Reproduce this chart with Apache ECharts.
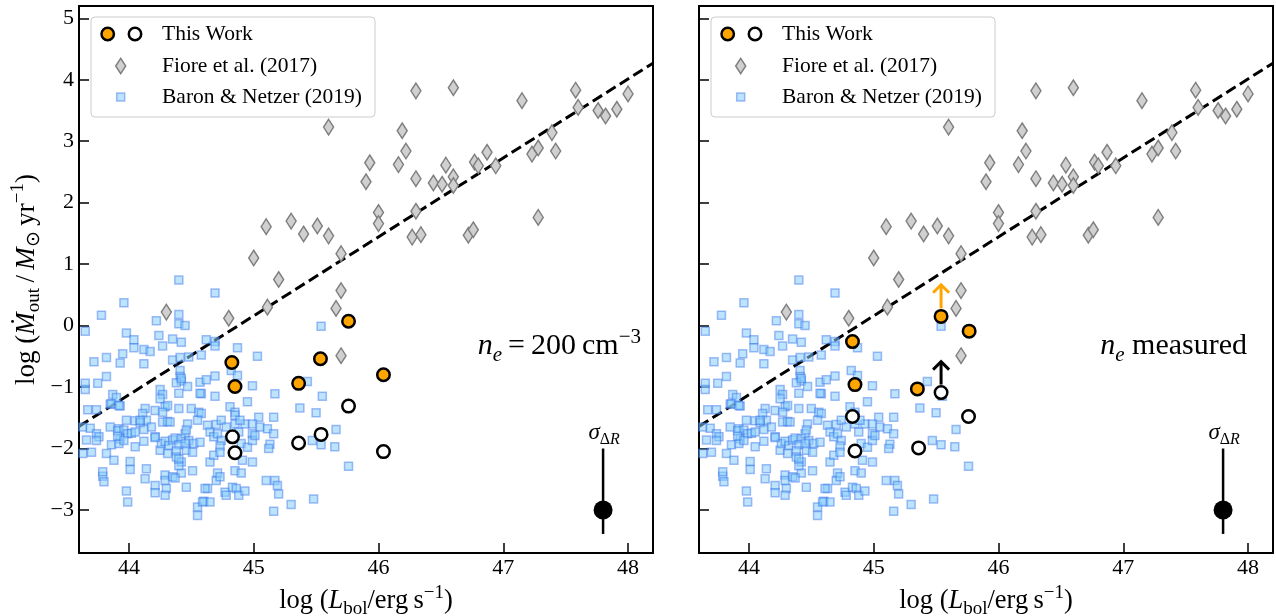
<!DOCTYPE html>
<html><head><meta charset="utf-8">
<script src="https://cdn.jsdelivr.net/npm/echarts@6/dist/echarts.min.js"></script>
<style>html,body{margin:0;padding:0;background:#fff}#c{width:1276px;height:616px}</style>
</head><body><div id="c"></div>
<script>
const xTicks=[44,45,46,47,48];
const yTicks=[-3,-2,-1,0,1,2,3,4,5];
const fiore=[[44.30,0.22],[44.80,0.12],[45.00,1.10],[45.10,1.61],[45.11,0.30],[45.20,0.75],[45.30,1.70],[45.40,1.49],[45.51,1.62],[45.60,1.46],[45.60,3.23],[45.66,0.28],[45.70,0.57],[45.70,1.17],[45.70,-0.49],[45.90,2.34],[45.93,2.65],[46.00,1.84],[46.00,1.66],[46.16,2.62],[46.19,3.17],[46.22,2.84],[46.27,1.44],[46.30,3.82],[46.30,2.39],[46.30,1.86],[46.34,1.48],[46.44,2.32],[46.51,2.30],[46.54,2.61],[46.60,3.87],[46.60,2.42],[46.60,2.28],[46.72,1.47],[46.76,1.56],[46.77,2.66],[46.80,2.60],[46.87,2.82],[46.94,2.60],[47.15,3.66],[47.23,2.79],[47.28,2.89],[47.28,1.76],[47.39,3.14],[47.42,2.84],[47.58,3.83],[47.60,3.55],[47.76,3.50],[47.82,3.41],[47.91,3.52],[48.00,3.77]];
const baron=[[44.40,0.74],[44.69,0.53],[43.96,0.37],[43.78,0.17],[44.22,0.08],[44.40,0.18],[44.40,0.03],[44.45,0.00],[43.65,-0.09],[45.54,-0.01],[43.98,-0.12],[44.24,-0.16],[44.04,-0.23],[44.04,-0.36],[44.35,-0.22],[44.42,-0.27],[44.27,-0.33],[44.12,-0.39],[44.17,-0.42],[44.62,-0.23],[44.69,-0.26],[44.69,-0.33],[44.87,-0.36],[43.95,-0.46],[43.72,-0.59],[43.82,-0.52],[43.93,-0.61],[44.12,-0.62],[44.35,-0.56],[44.41,-0.52],[44.48,-0.51],[44.58,-0.48],[45.03,-0.50],[44.41,-0.73],[44.82,-0.73],[44.87,-0.81],[43.65,-0.94],[43.75,-0.94],[43.82,-0.83],[43.65,-1.04],[44.41,-0.83],[44.42,-0.90],[44.47,-0.99],[44.38,-0.93],[44.25,-1.04],[44.27,-1.12],[44.40,-1.10],[44.57,-0.92],[44.62,-0.88],[44.69,-0.82],[44.58,-1.11],[44.69,-1.15],[44.99,-0.98],[45.17,-1.11],[45.43,-0.91],[45.55,-1.15],[43.87,-1.12],[43.90,-1.17],[43.93,-1.31],[43.85,-1.28],[43.67,-1.37],[44.25,-1.19],[44.29,-1.32],[44.31,-1.30],[44.13,-1.35],[44.11,-1.43],[44.21,-1.38],[44.27,-1.41],[44.50,-1.35],[44.56,-1.41],[44.58,-1.43],[44.81,-1.32],[44.85,-1.41],[44.85,-1.46],[44.95,-1.24],[45.04,-1.49],[45.16,-1.49],[45.37,-1.34],[45.50,-1.42],[43.98,-1.54],[43.92,-1.68],[44.05,-1.55],[44.14,-1.54],[44.09,-1.58],[44.18,-1.65],[44.27,-1.57],[44.31,-1.56],[44.47,-1.60],[44.55,-1.54],[44.70,-1.61],[44.74,-1.54],[44.78,-1.65],[44.85,-1.60],[44.88,-1.73],[44.93,-1.60],[44.99,-1.60],[45.05,-1.65],[45.11,-1.68],[45.16,-1.76],[44.99,-1.76],[43.63,-1.65],[43.69,-1.67],[43.74,-1.76],[43.66,-1.86],[43.63,-2.08],[43.70,-2.06],[43.76,-1.81],[43.85,-1.65],[43.91,-1.71],[43.93,-1.84],[43.96,-1.70],[43.99,-1.76],[44.02,-1.75],[44.05,-1.73],[43.86,-1.94],[43.92,-1.92],[43.82,-2.08],[43.88,-2.19],[44.01,-2.21],[44.01,-2.34],[44.05,-1.97],[44.12,-1.88],[44.14,-2.33],[44.21,-1.81],[44.25,-2.03],[44.26,-1.92],[44.29,-1.88],[44.32,-1.95],[44.35,-1.86],[44.37,-1.83],[44.42,-1.84],[44.40,-1.94],[44.45,-1.76],[44.46,-1.70],[44.48,-1.87],[44.52,-1.92],[44.57,-1.90],[44.38,-2.04],[44.46,-2.03],[44.51,-2.06],[44.31,-2.08],[44.38,-2.14],[44.42,-2.22],[44.45,-1.92],[44.63,-1.62],[44.65,-1.73],[44.68,-1.81],[44.71,-1.76],[44.74,-1.87],[44.73,-1.96],[44.65,-2.22],[44.68,-2.11],[44.73,-2.06],[44.90,-1.92],[44.91,-2.19],[44.95,-1.98],[44.99,-1.87],[45.01,-1.79],[44.99,-2.22],[45.13,-1.93],[45.12,-2.00],[45.54,-1.94],[45.47,-1.87],[45.65,-1.97],[45.66,-1.69],[45.76,-2.29],[44.13,-2.49],[43.79,-2.45],[43.80,-2.54],[43.79,-2.38],[44.21,-2.60],[44.21,-2.72],[44.29,-2.43],[44.29,-2.52],[44.30,-2.65],[44.29,-2.76],[44.35,-2.46],[44.42,-2.40],[44.40,-2.28],[44.46,-2.63],[44.51,-2.36],[44.55,-2.95],[44.55,-3.09],[44.60,-2.86],[44.63,-2.65],[44.65,-2.87],[44.70,-2.52],[44.71,-2.40],[44.73,-2.46],[44.77,-2.71],[44.78,-2.76],[44.83,-2.63],[44.86,-2.65],[44.88,-2.76],[44.85,-2.36],[44.90,-2.40],[44.93,-2.69],[45.10,-2.52],[45.17,-2.52],[45.19,-2.60],[45.20,-2.74],[45.16,-3.02],[45.30,-2.91],[45.48,-2.82],[43.98,-2.69],[43.99,-2.87],[43.74,-1.37],[43.86,-1.27],[43.92,-1.30],[44.40,-1.35],[44.09,-1.54],[43.74,-1.87],[44.37,-2.48],[44.40,-2.17],[44.33,-1.57],[44.21,-1.82],[44.12,-1.69],[44.42,-0.86],[44.57,-1.10],[43.91,-1.80],[43.96,-1.87],[44.89,-1.54],[44.61,-2.65],[44.59,-2.87]];
const leftFilled=[[44.825,-0.60],[44.85,-0.99],[45.36,-0.94],[45.535,-0.54],[45.76,0.07],[46.04,-0.80]];
const leftOpen=[[44.83,-1.81],[44.85,-2.07],[45.36,-1.91],[45.54,-1.77],[45.76,-1.31],[46.04,-2.05]];
const rightFilled=[[44.83,-0.26],[44.85,-0.96],[45.35,-1.03],[45.54,0.15],[45.765,-0.09]];
const rightOpen=[[44.83,-1.48],[44.85,-2.04],[45.36,-1.99],[45.54,-1.09],[45.76,-1.48]];
const arrowsOrange=[[45.54,0.28,0.68]];
const arrowsBlack=[[45.54,-0.96,-0.57]];
const fitLine=[[43.6,-1.64],[48.2,4.27]];
const errBar=[[47.8,-3.0,-3.39,-2.0]];

const F='Liberation Serif';
function rich(size){
  const s=Math.round(size*0.7), sh=Math.round(size*0.6);
  return {
    r:{fontSize:size,fontFamily:F,color:'#000'},
    i:{fontSize:size,fontFamily:F,fontStyle:'italic',color:'#000'},
    sb:{fontSize:s,fontFamily:F,color:'#000',padding:[sh,0,0,0]},
    sbi:{fontSize:s,fontFamily:F,fontStyle:'italic',color:'#000',padding:[sh,0,0,0]},
    sp:{fontSize:s,fontFamily:F,color:'#000',padding:[0,0,sh,0]}
  };
}
const fmt=v=>String(v).replace('-','\u2212');
const xName='{r|log (}{i|L}{sb|bol}{r|/erg\u2009s}{sp|\u22121}{r|)}';
const yName='{r|log (}{i|\u1E40}{sb|out}{r|\u2009/\u2009}{i|M}{sb|\u2299}{r|\u2009yr}{sp|\u22121}{r|)}';

const grids=[0,1].map(g=>({left:79+620*g,top:6,width:574,height:547,show:true,borderColor:'#000',borderWidth:2,backgroundColor:'transparent',outerBoundsMode:'none',containLabel:false}));
const xAxes=[0,1].map(g=>({type:'value',gridIndex:g,min:43.6,max:48.2,
  axisLine:{show:true,onZero:false,lineStyle:{color:'#000',width:2}},
  axisTick:{show:true,inside:true,length:10,customValues:xTicks,lineStyle:{color:'#000',width:1.5}},
  axisLabel:{show:true,customValues:xTicks,margin:4,fontSize:22,fontFamily:F,color:'#000',formatter:fmt},
  splitLine:{show:false},
  name:xName,nameLocation:'middle',nameGap:28,nameTextStyle:{rich:rich(26.5)}}));
const yAxes=[0,1].map(g=>({type:'value',gridIndex:g,min:-3.7,max:5.2,
  axisLine:{show:true,onZero:false,lineStyle:{color:'#000',width:2}},
  axisTick:{show:true,inside:true,length:10,customValues:yTicks,lineStyle:{color:'#000',width:1.5}},
  axisLabel:{show:g===0,customValues:yTicks,margin:5,fontSize:22,fontFamily:F,color:'#000',formatter:fmt},
  splitLine:{show:false},
  name:g===0?yName:'',nameLocation:'middle',nameGap:35,nameRotate:90,nameTextStyle:{rich:rich(27)}}));

function arrowSeries(g,data,color){
  return {type:'custom',xAxisIndex:g,yAxisIndex:g,data:data,z:6,silent:true,
    encode:{x:0,y:[1,2]},
    renderItem:(p,api)=>{
      const a=api.coord([api.value(0),api.value(1)]), b=api.coord([api.value(0),api.value(2)]);
      return {type:'group',children:[
        {type:'line',shape:{x1:a[0],y1:a[1],x2:b[0],y2:b[1]+1},style:{stroke:color,lineWidth:3}},
        {type:'polyline',shape:{points:[[b[0]-8,b[1]+9],[b[0],b[1]+1],[b[0]+8,b[1]+9]]},style:{stroke:color,lineWidth:3,fill:null,lineJoin:'miter'}}
      ]};
    }};
}
const sig=rich(23);
const sqStyle={color:'rgba(135,206,250,0.55)',borderColor:'rgba(50,110,235,0.45)',borderWidth:1.5,opacity:1};
function panelSeries(g,filled,open){
  const ax={xAxisIndex:g,yAxisIndex:g};
  return [
    Object.assign({type:'line',data:fitLine,symbol:'none',z:1,silent:true,lineStyle:{color:'#000',width:3,type:[11,5]}},ax),
    Object.assign({type:'scatter',data:baron,symbol:'rect',symbolSize:8,z:2,silent:true,itemStyle:sqStyle},ax),
    Object.assign({type:'scatter',data:fiore,symbol:'diamond',symbolSize:[10,15.5],z:3,silent:true,itemStyle:{color:'#d0d0d0',borderColor:'#7f7f7f',borderWidth:1.5,opacity:1}},ax),
    Object.assign({type:'scatter',data:filled,symbol:'circle',symbolSize:12.5,z:5,silent:true,itemStyle:{color:'#FFA500',borderColor:'#000',borderWidth:2.5,opacity:1}},ax),
    Object.assign({type:'scatter',data:open,symbol:'circle',symbolSize:12.5,z:5,silent:true,itemStyle:{color:'#fff',borderColor:'#000',borderWidth:2.5,opacity:1}},ax),
    Object.assign({type:'custom',data:errBar,z:5,silent:true,encode:{x:0,y:[2,3]},
      renderItem:(p,api)=>{
        const lo=api.coord([api.value(0),api.value(2)]), hi=api.coord([api.value(0),api.value(3)]);
        return {type:'group',children:[
          {type:'line',shape:{x1:lo[0],y1:lo[1],x2:hi[0],y2:hi[1]},style:{stroke:'#000',lineWidth:2.5}},
          {type:'text',x:hi[0]+1,y:hi[1]-1,style:{text:'{i|\u03C3}{sb|\u0394}{sbi|R}',rich:sig,align:'center',verticalAlign:'bottom'}}
        ]};
      }},ax),
    Object.assign({type:'scatter',data:errBar.map(d=>[d[0],d[1]]),symbol:'circle',symbolSize:19,z:6,silent:true,itemStyle:{color:'#000',opacity:1}},ax)
  ];
}
const series=[].concat(panelSeries(0,leftFilled,leftOpen),panelSeries(1,rightFilled,rightOpen),
  [arrowSeries(1,arrowsOrange,'#FFA500'),arrowSeries(1,arrowsBlack,'#000')]);

const legendLabels=['This Work','Fiore et al. (2017)','Baron & Netzer (2019)'];
const graphic=[];
[0,620].forEach(ox=>{
  graphic.push({type:'rect',z:20,shape:{x:91+ox,y:17,width:284,height:100,r:4},style:{fill:'rgba(255,255,255,0.85)',stroke:'#cccccc',lineWidth:1}});
  graphic.push({type:'circle',z:21,shape:{cx:107.7+ox,cy:34,r:6.2},style:{fill:'#FFA500',stroke:'#000',lineWidth:2.5}});
  graphic.push({type:'circle',z:21,shape:{cx:135+ox,cy:34,r:6.2},style:{fill:'#fff',stroke:'#000',lineWidth:2.5}});
  graphic.push({type:'polygon',z:21,shape:{points:[[120.7+ox,58.3],[125.7+ox,66],[120.7+ox,73.7],[115.7+ox,66]]},style:{fill:'#d0d0d0',stroke:'#7f7f7f',lineWidth:1.5}});
  graphic.push({type:'rect',z:21,shape:{x:116.7+ox,y:93,width:8,height:8},style:{fill:'rgba(135,206,250,0.55)',stroke:'rgba(50,110,235,0.45)',lineWidth:1.5}});
  legendLabels.forEach((t,k)=>graphic.push({type:'text',z:21,x:162+ox,y:[34,66,97][k],style:{text:t,fontFamily:F,fontSize:21.5,fill:'#000',verticalAlign:'middle',align:'left'}}));
});
graphic.push({type:'text',z:21,x:641,y:346,style:{text:'{i|n}{sbi|e}{r|\u2009=\u2009200\u2009cm}{sp|\u22123}',rich:rich(30),align:'right',verticalAlign:'middle'}});
graphic.push({type:'text',z:21,x:1247,y:346,style:{text:'{i|n}{sbi|e}{r| measured}',rich:rich(30),align:'right',verticalAlign:'middle'}});

const chart=echarts.init(document.getElementById('c'),null,{renderer:'canvas'});
chart.setOption({animation:false,backgroundColor:'#fff',grid:grids,xAxis:xAxes,yAxis:yAxes,series:series,graphic:graphic});
</script></body></html>
